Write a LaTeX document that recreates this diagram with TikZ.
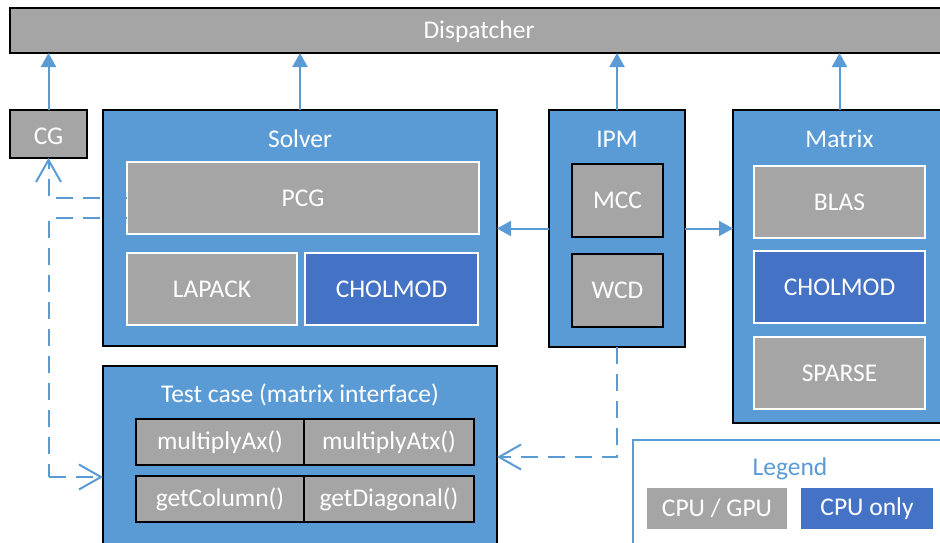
\documentclass[tikz,border=0pt]{standalone}
\usepackage{fontspec}
\setmainfont{Carlito}
\usetikzlibrary{arrows.meta,calc}
\definecolor{lblue}{HTML}{5B9BD5}
\definecolor{dblue}{HTML}{4472C4}
\definecolor{gbox}{HTML}{A5A5A5}
\begin{document}
\begin{tikzpicture}[x=1pt,y=-1pt,
  every node/.style={inner sep=0pt,outer sep=0pt,font=\fontsize{25.5}{30}\selectfont,text=white},
  outer/.style={draw=black,line width=1.6pt,fill=lblue},
  grayblk/.style={draw=black,line width=1.6pt,fill=gbox},
  graywht/.style={draw=white,line width=1.8pt,fill=gbox},
  bluewht/.style={draw=white,line width=1.8pt,fill=dblue},
  solidarr/.style={draw=lblue,line width=2pt,-{Triangle[length=14pt,width=15pt]}},
  dasharr/.style={draw=lblue,line width=2pt,dash pattern=on 17pt off 10pt,-{Straight Barb[length=22pt,width=25pt]}},
  dashln/.style={draw=lblue,line width=2pt,dash pattern=on 17pt off 10pt}]
\useasboundingbox (0,0) rectangle (940,542);
\begin{scope}
\clip (0,0) rectangle (940,542);
% Dispatcher
\node[grayblk,minimum width=938pt,minimum height=45pt] (disp) at (479,30.5) {};
\node (disptxt) at (479,32) {Dispatcher};
% CG
\node[grayblk,minimum width=77pt,minimum height=48pt] (cg) at (48.5,134) {};
\node (cgtxt) at (48.5,136) {CG};
% Solver
\node[outer,minimum width=394pt,minimum height=236pt] (solver) at (300,228) {};
\node (solvertitle) at (300,139) {Solver};
\node[graywht,minimum width=352pt,minimum height=72pt] (pcg) at (303,198) {PCG};
\node[graywht,minimum width=170pt,minimum height=72pt] (lapack) at (212,289) {LAPACK};
\node[bluewht,minimum width=173pt,minimum height=72pt] (chols) at (391.5,289) {CHOLMOD};
% IPM
\node[outer,minimum width=136pt,minimum height=237pt] (ipm) at (617,228.5) {};
\node (ipmtitle) at (617,139) {IPM};
\node[grayblk,minimum width=91pt,minimum height=73pt] (mcc) at (617.5,200.5) {MCC};
\node[grayblk,minimum width=91pt,minimum height=73pt] (wcd) at (617.5,290.5) {WCD};
% Matrix
\node[outer,minimum width=213pt,minimum height=313pt] (matrix) at (839.5,266.5) {};
\node (matrixtitle) at (839.5,139) {Matrix};
\node[graywht,minimum width=171pt,minimum height=72pt] (blas) at (839.5,202) {BLAS};
\node[bluewht,minimum width=171pt,minimum height=72pt] (cholm) at (839.5,287) {CHOLMOD};
\node[graywht,minimum width=171pt,minimum height=72pt] (sparse) at (839.5,373) {SPARSE};
% Test case
\node[outer,minimum width=394pt,minimum height=194pt] (test) at (300,463) {};
\node (testtitle) at (300,395) {Test case (matrix interface)};
\node[grayblk,minimum width=168pt,minimum height=46pt] (max) at (220,442) {multiplyAx()};
\node[grayblk,minimum width=170pt,minimum height=46pt] (matx) at (389,442) {multiplyAtx()};
\node[grayblk,minimum width=168pt,minimum height=46pt] (getcol) at (220,499) {getColumn()};
\node[grayblk,minimum width=170pt,minimum height=46pt] (getdiag) at (389,499) {getDiagonal()};
% Legend
\node[draw=lblue,line width=1.6pt,fill=white,minimum width=314pt,minimum height=120pt] (legend) at (790,500) {};
\node[text=lblue] (legendtitle) at (790,469) {Legend};
\node[fill=gbox,minimum width=140pt,minimum height=41pt] (cpugpu) at (717,508.5) {CPU / GPU};
\node[fill=dblue,minimum width=132pt,minimum height=41pt] (cpuonly) at (867,508.5) {CPU only};
% Solid connectors
\draw[solidarr] (cg.north) -- (cg.north |- disp.south);
\draw[solidarr] (solver.north) -- (solver.north |- disp.south);
\draw[solidarr] (ipm.north) -- (ipm.north |- disp.south);
\draw[solidarr] (matrix.north) -- (matrix.north |- disp.south);
\draw[solidarr] (ipm.west) -- (ipm.west -| solver.east);
\draw[solidarr] (ipm.east) -- (ipm.east -| matrix.west);
% Dashed connectors
\coordinate (pcglow) at ($(pcg.west)+(0,20)$);
\coordinate (testin) at ($(test.west)+(0,14)$);
\coordinate (testin2) at ($(test.east)+(0,-6)$);
\draw[dasharr] (pcg.west) -| (cg.south);
\draw[dashln] (pcglow) -- (pcglow -| cg.south) -- (cg.south |- testin);
\draw[dasharr] (cg.south |- testin) -- (testin);
\draw[dasharr] (ipm.south) |- (testin2);
\end{scope}
\end{tikzpicture}
\end{document}
